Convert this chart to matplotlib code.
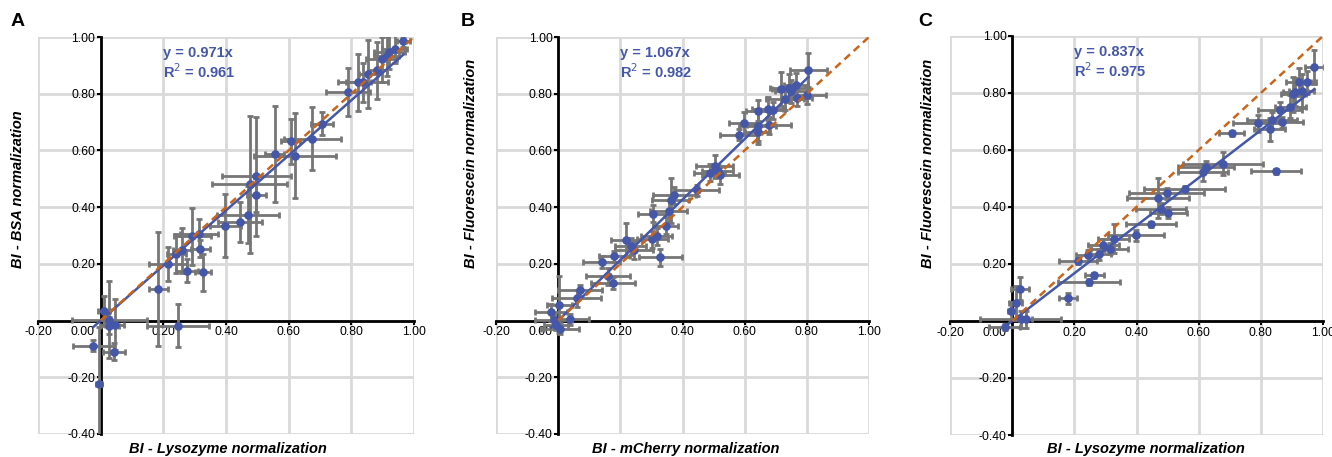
#! /usr/bin/env python

import numpy as np
import matplotlib
matplotlib.use('Agg')
import matplotlib.pyplot as plt
from matplotlib.transforms import ScaledTranslation

plt.rcParams['font.family'] = ['Liberation Sans', 'DejaVu Sans']

# Panel A: BI - Lysozyme (x) vs BI - BSA (y)
a_x = [0.966, 0.939, 0.921, 0.913, 0.897, 0.883, 0.854, 0.838, 0.822, 0.790,
       0.705, 0.676, 0.620, 0.607, 0.556, 0.497, 0.476, 0.497, 0.470, 0.446,
       0.398, 0.293, 0.314, 0.242, 0.261, 0.318, 0.215, 0.277, 0.327, 0.184,
       0.247, 0.011, 0.027, 0.027, 0.045, -0.023, 0.043, -0.005]
a_y = [0.985, 0.958, 0.946, 0.932, 0.921, 0.883, 0.871, 0.840, 0.840, 0.807,
       0.694, 0.642, 0.582, 0.632, 0.588, 0.509, 0.480, 0.444, 0.374, 0.348,
       0.335, 0.297, 0.307, 0.236, 0.248, 0.253, 0.200, 0.176, 0.170, 0.112,
       -0.018, 0.035, 0.003, -0.018, -0.015, -0.088, -0.110, -0.223]
a_xerr = [0.02, 0.04, 0.05, 0.04, 0.05, 0.03, 0.03, 0.08, 0.04, 0.07,
          0.035, 0.09, 0.13, 0.03, 0.03, 0.11, 0.12, 0.03, 0.10, 0.07,
          0.05, 0.06, 0.06, 0.03, 0.03, 0.03, 0.06, 0.035, 0.025, 0.03,
          0.10, 0.02, 0.12, 0.03, 0.03, 0.065, 0.035, 0.01]
a_yerr = [0.02, 0.05, 0.06, 0.07, 0.08, 0.10, 0.12, 0.07, 0.10, 0.085,
          0.04, 0.11, 0.15, 0.08, 0.17, 0.21, 0.24, 0.06, 0.10, 0.07,
          0.11, 0.10, 0.05, 0.07, 0.08, 0.03, 0.06, 0.04, 0.065, 0.20,
          0.075, 0.05, 0.135, 0.03, 0.09, 0.02, 0.03, 0.20]

# Panel B: BI - mCherry (x) vs BI - Fluorescein (y)
b_x = [0.805, 0.802, 0.768, 0.765, 0.743, 0.749, 0.717, 0.730, 0.674, 0.690,
       0.644, 0.679, 0.642, 0.599, 0.642, 0.581, 0.503, 0.513, 0.487, 0.522,
       0.446, 0.374, 0.362, 0.356, 0.306, 0.346, 0.317, 0.303, 0.219, 0.233,
       0.244, 0.329, 0.180, 0.140, 0.160, 0.176, 0.071, 0.059, 0.003, -0.023,
       -0.015, 0.039, -0.007, 0.006]
b_y = [0.885, 0.794, 0.786, 0.832, 0.821, 0.809, 0.817, 0.782, 0.747, 0.742,
       0.738, 0.688, 0.685, 0.697, 0.664, 0.656, 0.544, 0.527, 0.521, 0.513,
       0.459, 0.442, 0.424, 0.386, 0.376, 0.335, 0.297, 0.286, 0.283, 0.262,
       0.248, 0.223, 0.227, 0.206, 0.156, 0.133, 0.107, 0.078, 0.056, 0.029,
       0.001, 0.004, -0.014, -0.029]
b_xerr = [0.06, 0.06, 0.05, 0.04, 0.06, 0.05, 0.03, 0.06, 0.05, 0.04,
          0.04, 0.07, 0.06, 0.05, 0.04, 0.06, 0.06, 0.05, 0.05, 0.06,
          0.07, 0.07, 0.06, 0.06, 0.05, 0.04, 0.05, 0.05, 0.05, 0.05,
          0.06, 0.07, 0.05, 0.06, 0.07, 0.07, 0.07, 0.08, 0.04, 0.05,
          0.06, 0.06, 0.04, 0.06]
b_yerr = [0.06, 0.03, 0.03, 0.04, 0.05, 0.04, 0.06, 0.04, 0.04, 0.03,
          0.04, 0.03, 0.05, 0.04, 0.04, 0.02, 0.04, 0.02, 0.03, 0.03,
          0.02, 0.03, 0.08, 0.04, 0.03, 0.03, 0.03, 0.03, 0.06, 0.03,
          0.03, 0.03, 0.02, 0.02, 0.03, 0.02, 0.02, 0.03, 0.10, 0.03,
          0.02, 0.02, 0.02, 0.02]

# Panel C: BI - Lysozyme (x) vs BI - Fluorescein (y)
c_x = [0.972, 0.922, 0.949, 0.911, 0.931, 0.904, 0.894, 0.861, 0.835, 0.867,
       0.792, 0.828, 0.706, 0.848, 0.678, 0.624, 0.613, 0.555, 0.497, 0.470,
       0.478, 0.502, 0.446, 0.398, 0.327, 0.293, 0.314, 0.279, 0.244, 0.212,
       0.264, 0.248, 0.180, 0.025, 0.011, -0.004, 0.028, 0.043, -0.024]
c_y = [0.891, 0.838, 0.838, 0.804, 0.807, 0.795, 0.752, 0.739, 0.705, 0.697,
       0.694, 0.673, 0.658, 0.525, 0.552, 0.542, 0.522, 0.464, 0.448, 0.430,
       0.394, 0.380, 0.339, 0.301, 0.289, 0.266, 0.254, 0.234, 0.230, 0.211,
       0.160, 0.138, 0.079, 0.114, 0.062, 0.035, 0.006, 0.006, -0.021]
c_xerr = [0.03, 0.04, 0.03, 0.04, 0.04, 0.04, 0.05, 0.07, 0.08, 0.07,
          0.08, 0.05, 0.04, 0.08, 0.13, 0.09, 0.08, 0.13, 0.12, 0.10,
          0.08, 0.06, 0.08, 0.09, 0.05, 0.05, 0.06, 0.04, 0.04, 0.06,
          0.03, 0.10, 0.03, 0.03, 0.02, 0.01, 0.13, 0.02, 0.05]
c_yerr = [0.06, 0.05, 0.04, 0.05, 0.06, 0.06, 0.04, 0.03, 0.03, 0.02,
          0.03, 0.04, 0.01, 0.01, 0.04, 0.02, 0.03, 0.01, 0.02, 0.07,
          0.02, 0.02, 0.01, 0.02, 0.05, 0.02, 0.02, 0.02, 0.02, 0.01,
          0.01, 0.01, 0.02, 0.04, 0.06, 0.03, 0.03, 0.03, 0.01]

slopes = [0.971, 1.067, 0.837]
r2_values = [0.961, 0.982, 0.975]
panel_letters = ['A', 'B', 'C']
x_titles = ['BI - Lysozyme normalization', 'BI - mCherry normalization',
            'BI - Lysozyme normalization']
y_titles = ['BI - BSA normalization', 'BI - Fluorescein normalization',
            'BI - Fluorescein normalization']
x_ticks = [-0.2, 0.0, 0.2, 0.4, 0.6, 0.8, 1.0]
y_ticks = [-0.4, -0.2, 0.2, 0.4, 0.6, 0.8, 1.0]

BLUE = '#4557A8'
GREY = '#767676'
ORANGE = '#C8651B'
GRID = '#D9D9D9'

W, H = 1332, 457
# axes rectangles in pixels: left, right, top, bottom
boxes = [(38, 414, 37, 434), (496, 869, 37, 434), (950, 1323, 36, 435)]
ylabel_x = [18, 471, 928]
xlabel_x = [228, 686, 1146]
letter_x = [18, 468, 925]


def draw_panel(fig, i, x, y, xerr, yerr):
    l, r, t, b = boxes[i]
    ax = fig.add_axes([l / W, 1 - b / H, (r - l) / W, (b - t) / H])
    ax.set_xlim(-0.2, 1.0)
    ax.set_ylim(-0.4, 1.0)

    ax.errorbar(x, y, xerr=xerr, yerr=yerr, fmt='none', ecolor=GREY,
                elinewidth=2, capsize=2.2, capthick=2, zorder=3)
    ax.plot(x, y, 'o', color=BLUE, markersize=5.2, zorder=4)

    # trendline through origin over data range
    xs = np.array([min(x), max(x)])
    ax.plot(xs, slopes[i] * xs, color=BLUE, lw=1.8, zorder=5)
    ax.plot([0, 1], [0, 1], color=ORANGE, lw=1.8, dashes=(3, 2), zorder=5)

    ax.text(0.2, 0.968, 'y = %.3fx\nR$^{2}$ = %.3f' % (slopes[i], r2_values[i]),
            color=BLUE, fontsize=10.5, fontweight='bold', va='top', ha='left',
            linespacing=1.15, zorder=6)

    ax.set_xticks(x_ticks)
    ax.set_yticks(y_ticks)
    ax.set_xticklabels(['%.2f' % v for v in x_ticks])
    ax.set_yticklabels(['%.2f' % v for v in y_ticks])
    ax.set_xticks(np.arange(-0.2, 1.01, 0.2), minor=True)
    ax.set_yticks(np.arange(-0.4, 1.01, 0.2), minor=True)
    ax.grid(True, which='both', color=GRID, lw=2)
    ax.tick_params(which='minor', length=0)
    ax.tick_params(which='major', labelsize=8.7, length=3, width=1.5, pad=1,
                   color='black')
    ticks = (ax.xaxis.get_major_ticks() + ax.xaxis.get_minor_ticks() +
             ax.yaxis.get_major_ticks() + ax.yaxis.get_minor_ticks())
    for tk in ticks:
        tk.gridline.set_clip_on(False)
    ax.set_axisbelow(True)

    ax.spines['left'].set_position(('data', 0))
    ax.spines['bottom'].set_position(('data', 0))
    ax.spines['left'].set_linewidth(2)
    ax.spines['bottom'].set_linewidth(2)
    ax.spines['top'].set_visible(False)
    ax.spines['right'].set_visible(False)
    for sp in ['left', 'bottom']:
        ax.spines[sp].set_zorder(2.5)

    # "0.00" label sits left of the vertical axis
    for lab in ax.get_xticklabels():
        if lab.get_text() == '0.00':
            lab.set_transform(lab.get_transform() +
                              ScaledTranslation(-13 / 72, 0, fig.dpi_scale_trans))

    fig.text(xlabel_x[i] / W, 1 - 449 / H, x_titles[i], ha='center',
             va='center', fontsize=10.5, fontweight='bold', style='italic')
    fig.text(ylabel_x[i] / W, 1 - 268 / H, y_titles[i], rotation=90,
             rotation_mode='anchor', ha='left', va='center', fontsize=10.5,
             fontweight='bold', style='italic')
    fig.text(letter_x[i] / W, 1 - 22 / H, panel_letters[i], ha='center',
             va='center', fontsize=14, fontweight='bold')
    return ax


def main():
    fig = plt.figure(figsize=(W / 100, H / 100), dpi=100)
    draw_panel(fig, 0, a_x, a_y, a_xerr, a_yerr)
    draw_panel(fig, 1, b_x, b_y, b_xerr, b_yerr)
    draw_panel(fig, 2, c_x, c_y, c_xerr, c_yerr)
    fig.savefig('out.png', dpi=100)


main()
